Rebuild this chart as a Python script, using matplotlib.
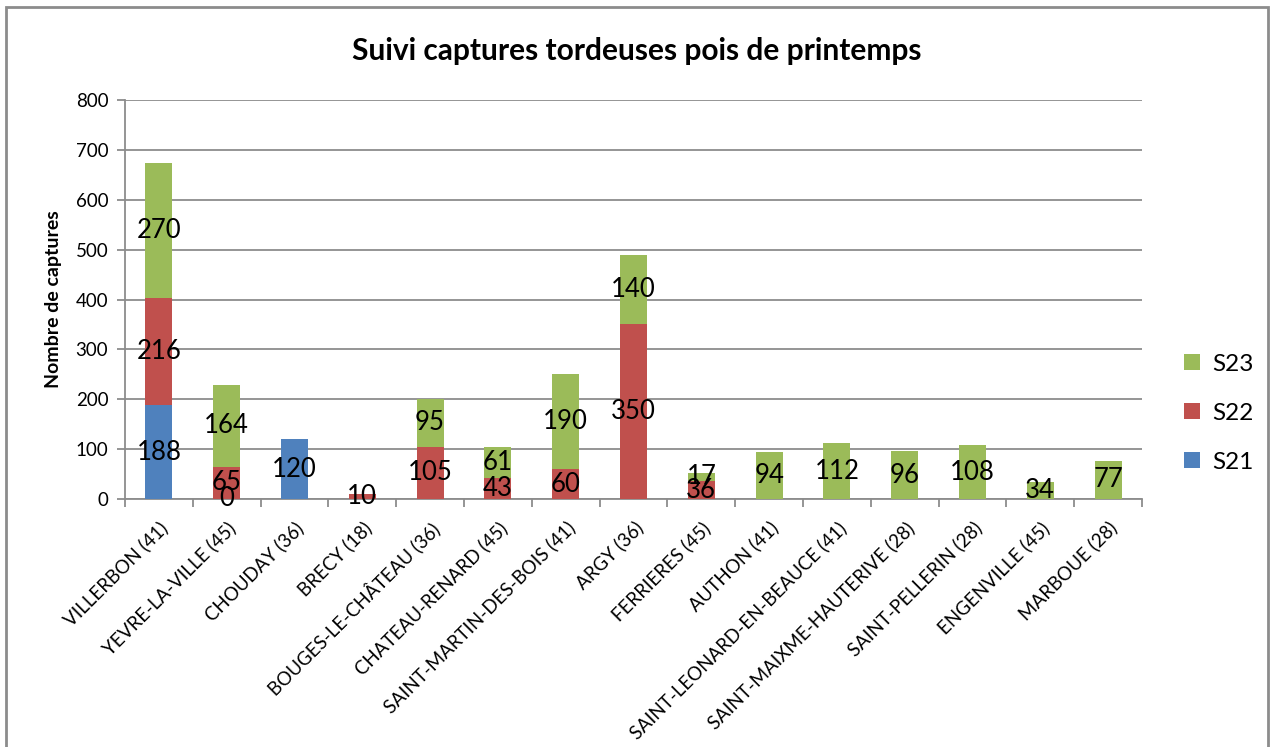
import numpy as np
import matplotlib.pyplot as plt
from matplotlib.patches import Rectangle

plt.rcParams['font.family'] = ['Lato', 'DejaVu Sans']

communes = ['VILLERBON (41)', 'YEVRE-LA-VILLE (45)', 'CHOUDAY (36)', 'BRECY (18)',
            'BOUGES-LE-CHÂTEAU (36)', 'CHATEAU-RENARD (45)', 'SAINT-MARTIN-DES-BOIS (41)',
            'ARGY (36)', 'FERRIERES (45)', 'AUTHON (41)', 'SAINT-LEONARD-EN-BEAUCE (41)',
            'SAINT-MAIXME-HAUTERIVE (28)', 'SAINT-PELLERIN (28)', 'ENGENVILLE (45)',
            'MARBOUE (28)']
nan = np.nan
s21 = [188, 0, 120, nan, nan, nan, nan, nan, nan, nan, nan, nan, nan, nan, nan]
s22 = [216, 65, nan, 10, 105, 43, 60, 350, 36, nan, nan, nan, nan, nan, nan]
s23 = [270, 164, nan, nan, 95, 61, 190, 140, 17, 94, 112, 96, 108, 34, 77]

series = [('S21', s21, '#4F81BD'), ('S22', s22, '#C0504D'), ('S23', s23, '#9BBB59')]

fig = plt.figure(figsize=(12.74, 7.47), dpi=100)
ax = fig.add_axes([0.0981, 0.332, 0.7983, 0.534])

x = np.arange(len(communes))
bottom = np.zeros(len(communes))
handles = []
for name, vals, col in series:
    v = np.array(vals, dtype=float)
    h = np.nan_to_num(v)
    bars = ax.bar(x, h, 0.4, bottom=bottom, color=col, label=name, zorder=3)
    handles.append(bars)
    for xi, val, b in zip(x, v, bottom):
        if not np.isnan(val):
            ax.text(xi, b + val / 2, '%d' % val, ha='center', va='center',
                    fontsize=18.5, color='black', zorder=5)
    bottom = bottom + h

ax.set_xlim(-0.5, len(communes) - 0.5)
ax.set_ylim(0, 800)
ax.set_yticks(range(0, 801, 100))
ax.yaxis.grid(True, color='#8c8c8c', linewidth=1.3, zorder=0)
ax.set_axisbelow(True)

ax.set_xticks(x)
ax.set_xticklabels(communes, rotation=45, ha='right', va='top',
                   rotation_mode='anchor', fontsize=13.5)
ax.tick_params(axis='x', which='major', length=0, pad=14)
ax.set_xticks(np.arange(-0.5, len(communes), 1), minor=True)
ax.tick_params(axis='x', which='minor', length=6, color='#8c8c8c', width=1.3)
ax.tick_params(axis='y', length=6, color='#8c8c8c', width=1.3, labelsize=13.5, pad=6)

for s in ['top', 'right']:
    ax.spines[s].set_visible(False)
for s in ['left', 'bottom']:
    ax.spines[s].set_color('#8c8c8c')
    ax.spines[s].set_linewidth(1.3)

ax.set_ylabel('Nombre de captures', fontsize=14, fontweight='bold', labelpad=10)

fig.suptitle('Suivi captures tordeuses pois de printemps', fontsize=21.5,
             fontweight='bold', x=0.5, y=0.95)

ax.legend(handles[::-1], ['S23', 'S22', 'S21'], loc='center left',
          bbox_to_anchor=(1.02, 0.215), frameon=False, fontsize=17.5,
          handlelength=0.65, handleheight=0.65, labelspacing=1.15, handletextpad=0.5)

fig.patches.append(Rectangle((0.005, -0.05), 0.99, 1.04, transform=fig.transFigure,
                             fill=False, edgecolor='#8c8c8c', linewidth=2))

fig.savefig('out.png', dpi=100)
